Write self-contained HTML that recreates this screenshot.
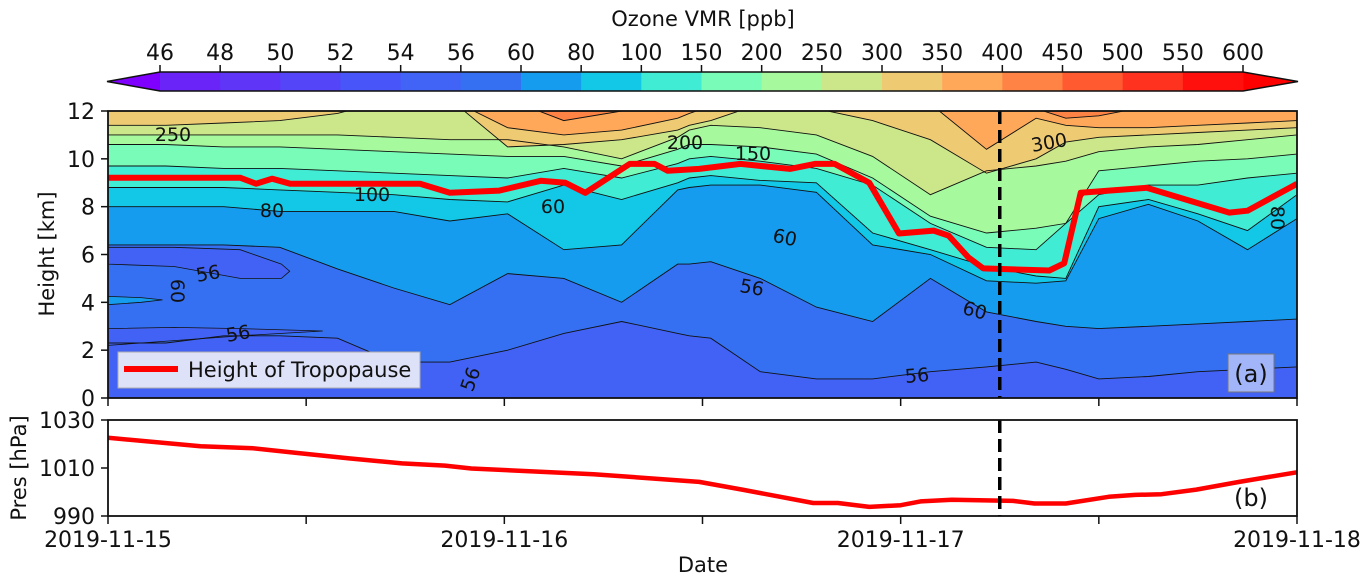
<!DOCTYPE html>
<html><head><meta charset="utf-8"><style>
html,body{margin:0;padding:0;background:#fff;}
svg{display:block;font-family:"DejaVu Sans","Liberation Sans",sans-serif;}
</style></head><body>
<svg id="chart" width="1370" height="584" viewBox="0 0 1370 584" xmlns="http://www.w3.org/2000/svg">
<defs>
<clipPath id="clipA"><rect x="108" y="111" width="1189" height="287"/></clipPath>
<clipPath id="clipB"><rect x="108" y="420" width="1189" height="96"/></clipPath>
</defs>
<g id="cbar"></g>
<g id="panelA"></g>
<g id="panelB"></g>
</svg>
<script>
// ---- colorbar data ----
const cbLevels = ["46","48","50","52","54","56","60","80","100","150","200","250","300","350","400","450","500","550","600"];
const cbColors = ["#6a24f8","#5f35f7","#5446f8","#4856f9","#4163f6","#3670f2","#169cef","#12c8e6","#40ecd4","#78fcb8","#a6f99c","#cbe78a","#eecb72","#ffa85a","#ff8344","#ff5a30","#ff3220","#ff100d"];
// ---- contour level curves (hours, km) ----
const levelHours = [0,3.5,7,10.4,13.9,17.3,20.7,24.2,27.6,31.1,34.5,35.2,36.5,39.5,42.9,46.3,49.8,53.2,56.2,58,60,63,66,69,72];
const L56  = [2.3,2.3,2.6,2.6,2.5,1.5,1.5,2.0,2.7,3.2,2.7,2.6,2.5,1.1,0.8,0.8,1.1,1.3,1.5,1.2,0.8,0.9,1.1,1.2,1.3];
const L60  = [6.4,6.4,6.4,6.3,5.4,4.6,3.9,5.2,5.0,4.0,5.6,5.6,5.7,5.0,3.8,3.2,5.0,3.6,3.2,3.0,2.9,3.0,3.1,3.2,3.3];
const L80  = [8.0,8.0,8.0,7.8,7.8,7.8,7.4,7.7,6.2,6.4,8.7,8.8,8.9,8.9,8.6,6.4,6.0,4.9,4.8,4.9,7.5,8.1,7.4,6.2,7.5];
const L100 = [8.8,8.8,8.8,8.7,8.6,8.5,8.3,8.2,8.9,8.3,9.0,9.2,9.3,9.1,9.0,6.9,6.2,5.5,5.1,5.0,8.0,8.3,7.7,7.0,8.5];
const L150 = [9.7,9.7,9.6,9.6,9.5,9.4,9.3,9.2,9.6,9.2,9.8,10.0,10.1,9.9,9.6,8.9,7.3,6.3,6.2,7.3,8.5,8.9,8.9,9.2,9.4];
const L200 = [10.6,10.6,10.5,10.5,10.4,10.3,10.2,10.1,10.1,9.7,10.4,10.6,10.6,10.5,10.2,9.2,7.6,6.9,7.1,7.3,9.5,9.7,9.9,10.0,10.2];
const L250 = [11.0,11.0,11.0,11.0,11.0,10.9,10.8,10.8,10.5,10.0,10.9,11.2,11.4,11.3,11.0,10.1,8.5,9.5,9.7,9.9,10.3,10.5,10.6,10.8,11.0];
const L300 = [11.4,11.4,11.5,11.6,11.9,12.5,12.5,10.5,10.6,10.8,11.2,11.4,11.6,12.3,12.1,11.6,10.8,9.4,10.0,10.7,10.9,11.0,11.1,11.2,11.3];
const L350 = [12.5,12.5,12.5,12.5,12.5,12.5,12.5,11.3,11.0,11.2,11.7,11.9,12.2,12.5,12.5,12.5,12.3,10.4,11.7,11.4,11.3,11.3,11.4,11.5,11.6];
const L400 = [12.5,12.5,12.5,12.5,12.5,12.5,12.5,12.5,11.6,12.0,12.5,12.5,12.5,12.5,12.5,12.5,12.5,12.5,12.1,11.7,11.8,12.2,12.5,12.5,12.5];
// pockets
const pocketAHours = [0,4,8,10.5,11];
const pocketALow   = [5.6,5.5,5.0,5.0,5.3];
const pocketAHigh  = [6.3,6.3,6.2,5.6,5.3];
const pocketBHours = [0,4,8,13];
const pocketBLow   = [2.2,2.4,2.6,2.8];
const pocketBHigh  = [2.9,2.95,2.9,2.8];
const pocketCHours = [0,2,3.3];
const pocketCLow   = [3.9,4.0,4.1];
const pocketCHigh  = [4.25,4.2,4.1];
// tropopause
const tropHours = [0,8.0,8.96,9.93,11.02,18.9,20.7,23.7,26.2,27.7,28.9,31.6,33.1,33.9,35.8,38.3,41.3,42.8,44.0,46.1,47.9,50.0,50.9,52.1,53.0,57.0,57.9,58.9,62.9,67.9,69.0,71.8,72];
const tropKm    = [9.21,9.21,8.96,9.17,8.96,8.96,8.58,8.67,9.08,9.0,8.58,9.79,9.79,9.5,9.58,9.79,9.58,9.79,9.79,9.0,6.88,7.0,6.79,5.88,5.42,5.33,5.63,8.58,8.79,7.75,7.83,8.88,8.96];
// pressure
const presHours = [0,5.6,8.8,11.4,14.6,17.8,20.4,22.0,29.4,35.8,38.4,42.7,44.2,46.1,48.0,49.2,51.1,54.8,56.1,58.0,60.6,62.2,63.8,65.9,68.5,71.8,72];
const presVals  = [1022.6,1019.1,1018.2,1016.3,1014,1011.9,1011,1009.8,1007.4,1004.2,1001,995.4,995.4,993.8,994.5,996.1,996.8,996.3,995.2,995.2,998,998.8,999.1,1001,1004.2,1008,1008.2];
const yTicksA = [0,2,4,6,8,10,12];
const yTicksB = [990,1010,1030];
const xTickHours = [0,12,24,36,48,60,72];
const xTickLabels = ["2019-11-15","","2019-11-16","","2019-11-17","","2019-11-18"];
const dashHour = 54;

const NS="http://www.w3.org/2000/svg";
function mk(tag,attrs,parent){const e=document.createElementNS(NS,tag);for(const k in attrs)e.setAttribute(k,attrs[k]);parent.appendChild(e);return e;}
const X0=108,X1=1297;
const xs=h=>X0+(h/72)*(X1-X0);
const yA=k=>398-(k/12)*287;
const yB=p=>516-((p-990)/40)*96;
const TF=22;

// colorbar
const cb=document.getElementById('cbar');
const cbL=160,cbR=1243,cbT=72,cbB=91,cw=(cbR-cbL)/cbColors.length;
let tri=mk('polygon',{points:`107,${(cbT+cbB)/2} ${cbL},${cbT} ${cbL},${cbB}`,fill:'#8000ff'},cb);

tri=mk('polygon',{points:`1298,${(cbT+cbB)/2} ${cbR},${cbT} ${cbR},${cbB}`,fill:'#ff0000'},cb);

cbColors.forEach((c,i)=>{const r=mk('rect',{x:cbL+i*cw,y:cbT,width:cw+0.5,height:cbB-cbT,fill:c},cb);
});
mk('polygon',{points:`107,${(cbT+cbB)/2} ${cbL},${cbT} ${cbR},${cbT} 1298,${(cbT+cbB)/2} ${cbR},${cbB} ${cbL},${cbB}`,fill:'none',stroke:'#111','stroke-width':1.5},cb);
cbLevels.forEach((l,i)=>{const x=cbL+i*cw;mk('line',{x1:x,x2:x,y1:cbT,y2:cbT-7,stroke:'#111','stroke-width':1.5},cb);
const t=mk('text',{x:x,y:cbT-12,'text-anchor':'middle','font-size':TF,fill:'#111'},cb);t.textContent=l;
});
let ct=mk('text',{x:703,y:26,'text-anchor':'middle','font-size':21,fill:'#111'},cb);ct.textContent='Ozone VMR [ppb]';


// panel A
const pa=document.getElementById('panelA');
const ga=mk('g',{'clip-path':'url(#clipA)'},pa);
mk('rect',{x:108,y:111,width:1189,height:287,fill:'#4162f5'},ga);
const layers=[[L56,'#3670f2'],[L60,'#169cef'],[L80,'#12c8e6'],[L100,'#40ecd4'],[L150,'#78fcb8'],[L200,'#a6f99c'],[L250,'#cbe78a'],[L300,'#eecb72'],[L350,'#ffa85a'],[L400,'#ff8344']];
function curvePts(hrs,vals){return hrs.map((h,i)=>`${xs(h).toFixed(1)},${yA(vals[i]).toFixed(1)}`);}
layers.forEach(([arr,col])=>{const p=curvePts(levelHours,arr);
const poly=mk('polygon',{points:p.join(' ')+` ${X1},100 ${X0},100`,fill:col},ga);
});
function pocket(hrs,lo,hi,col){const p=curvePts(hrs,lo).concat(curvePts(hrs,hi).reverse());
const poly=mk('polygon',{points:p.join(' '),fill:col,stroke:'#111','stroke-width':0.8},ga);
}
pocket(pocketAHours,pocketALow,pocketAHigh,'#4162f5');
pocket(pocketBHours,pocketBLow,pocketBHigh,'#4162f5');
pocket(pocketCHours,pocketCLow,pocketCHigh,'#169cef');
layers.forEach(([arr])=>{const l=mk('polyline',{points:curvePts(levelHours,arr).join(' '),fill:'none',stroke:'#111','stroke-width':0.9},ga);
});
const clabels=[[173,140,'250',0],[685,148,'200',0],[753,159,'150',0],[1049,148,'300',-10],[372,200,'100',0],[272,216,'80',0],[553,212,'60',0],[785,243,'60',12],[752,293,'56',10],[975,316,'60',15],[917,381,'56',-5],[208,279,'56',-10],[238,339,'56',-10],[178,297,'60',90],[470,385,'56',-70],[1278,224,'80',90]];
clabels.forEach(([x,y,s,r])=>{const t=mk('text',{x:x,y:y+1,'text-anchor':'middle','font-size':19,fill:'#111',transform:`rotate(${r} ${x} ${y-6})`},ga);t.textContent=s;
});
const trop=mk('polyline',{points:tropHours.map((h,i)=>`${xs(h).toFixed(1)},${yA(tropKm[i]).toFixed(1)}`).join(' '),fill:'none',stroke:'#ff0000','stroke-width':6,'stroke-linejoin':'round'},ga);

let dl=mk('line',{x1:xs(dashHour),x2:xs(dashHour),y1:111,y2:398,stroke:'#000','stroke-width':3.5,'stroke-dasharray':'13,6'},pa);

// legend
const lg=mk('g',{},pa);
mk('rect',{x:118,y:352,width:302,height:36,fill:'#dde2f8',stroke:'#aaa','stroke-width':1},lg);
mk('line',{x1:124,x2:178,y1:369,y2:369,stroke:'#ff0000','stroke-width':6},lg);
let lt=mk('text',{x:188,y:377,'font-size':21,fill:'#111'},lg);lt.textContent='Height of Tropopause';

mk('rect',{x:1228,y:354,width:46,height:38,fill:'#a3b5f9',stroke:'#777','stroke-width':1},pa);
let al=mk('text',{x:1251,y:382,'text-anchor':'middle','font-size':24,fill:'#111'},pa);al.textContent='(a)';

mk('rect',{x:108,y:111,width:1189,height:287,fill:'none',stroke:'#111','stroke-width':1.8},pa);
yTicksA.forEach(v=>{const y=yA(v);mk('line',{x1:101,x2:108,y1:y,y2:y,stroke:'#111','stroke-width':1.5},pa);
const t=mk('text',{x:95,y:y+8,'text-anchor':'end','font-size':TF,fill:'#111'},pa);t.textContent=v;
});
xTickHours.forEach(h=>{mk('line',{x1:xs(h),x2:xs(h),y1:398,y2:406,stroke:'#111','stroke-width':1.5},pa);});
let yt=mk('text',{x:54,y:254,'text-anchor':'middle','font-size':21,fill:'#111',transform:'rotate(-90 54 254)'},pa);yt.textContent='Height [km]';


// panel B
const pb=document.getElementById('panelB');
const gb=mk('g',{'clip-path':'url(#clipB)'},pb);
const pl=mk('polyline',{points:presHours.map((h,i)=>`${xs(h).toFixed(1)},${yB(presVals[i]).toFixed(1)}`).join(' '),fill:'none',stroke:'#ff0000','stroke-width':4.5,'stroke-linejoin':'round'},gb);

dl=mk('line',{x1:xs(dashHour),x2:xs(dashHour),y1:420,y2:516,stroke:'#000','stroke-width':3.5,'stroke-dasharray':'13,6'},pb);

mk('rect',{x:108,y:420,width:1189,height:96,fill:'none',stroke:'#111','stroke-width':1.8},pb);
let bl=mk('text',{x:1251,y:506,'text-anchor':'middle','font-size':24,fill:'#111'},pb);bl.textContent='(b)';

yTicksB.forEach(v=>{const y=yB(v);mk('line',{x1:101,x2:108,y1:y,y2:y,stroke:'#111','stroke-width':1.5},pb);
const t=mk('text',{x:95,y:y+8,'text-anchor':'end','font-size':TF,fill:'#111'},pb);t.textContent=v;
});
xTickHours.forEach((h,i)=>{const x=xs(h);mk('line',{x1:x,x2:x,y1:516,y2:524,stroke:'#111','stroke-width':1.5},pb);
if(xTickLabels[i]){const t=mk('text',{x:x,y:547,'text-anchor':'middle','font-size':TF,fill:'#111'},pb);t.textContent=xTickLabels[i];
}});
let pt=mk('text',{x:26,y:468,'text-anchor':'middle','font-size':21,fill:'#111',transform:'rotate(-90 26 468)'},pb);pt.textContent='Pres [hPa]';

let xt=mk('text',{x:703,y:572,'text-anchor':'middle','font-size':21,fill:'#111'},pb);xt.textContent='Date';

</script>
</body></html>
